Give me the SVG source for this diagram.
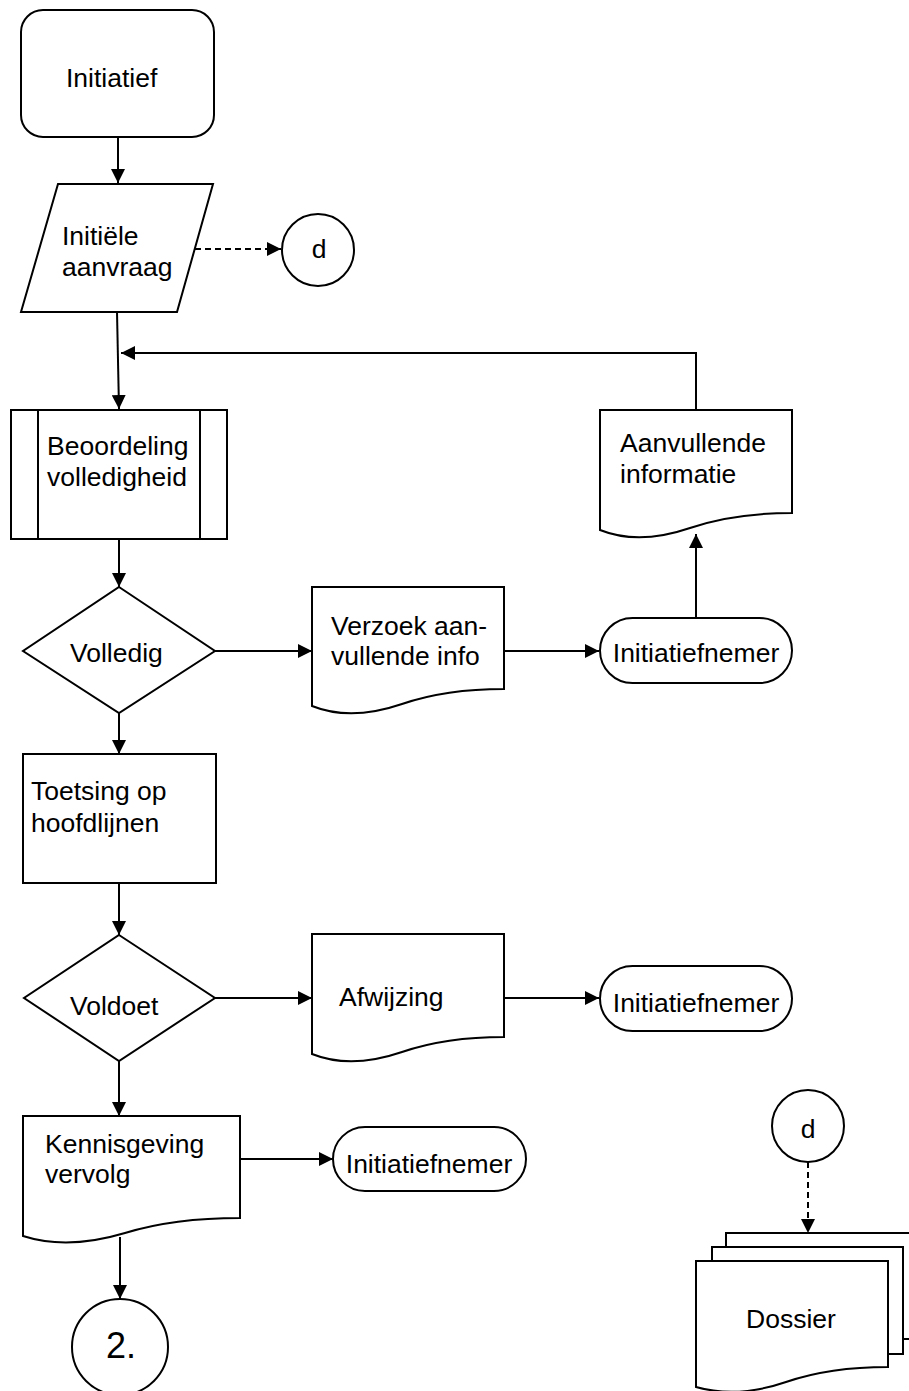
<svg xmlns="http://www.w3.org/2000/svg" width="909" height="1391" viewBox="0 0 909 1391">
<style>
.s{fill:#fff;stroke:#000;stroke-width:2}
.t{font-family:"Liberation Sans",Arial,sans-serif;font-size:26.5px;fill:#000}
.c{text-anchor:middle}
.l{fill:none;stroke:#000;stroke-width:2}
.d{stroke-dasharray:6 4}
</style>
<defs>
<marker id="ah" markerUnits="userSpaceOnUse" markerWidth="14" markerHeight="14" refX="14" refY="7" orient="auto">
<path d="M0,0 L14,7 L0,14 z" fill="#000"/>
</marker>
</defs>
<rect width="909" height="1391" fill="#fff"/>
<g id="connectors">
<path class="l" d="M118,137 V183" marker-end="url(#ah)"/>
<path class="l d" d="M195,249 H281" marker-end="url(#ah)"/>
<path class="l" d="M117,312 L119,409" marker-end="url(#ah)"/>
<path class="l" d="M696,410 V353 H121" marker-end="url(#ah)"/>
<path class="l" d="M119,539 V587" marker-end="url(#ah)"/>
<path class="l" d="M215,651 H312" marker-end="url(#ah)"/>
<path class="l" d="M504,651 H599" marker-end="url(#ah)"/>
<path class="l" d="M696,618 V534" marker-end="url(#ah)"/>
<path class="l" d="M119,713 V754" marker-end="url(#ah)"/>
<path class="l" d="M119,883 V935" marker-end="url(#ah)"/>
<path class="l" d="M215,998 H312" marker-end="url(#ah)"/>
<path class="l" d="M504,998 H599" marker-end="url(#ah)"/>
<path class="l" d="M119,1061 V1116" marker-end="url(#ah)"/>
<path class="l" d="M237,1159 H333" marker-end="url(#ah)"/>
<path class="l" d="M120,1237 V1299" marker-end="url(#ah)"/>
<path class="l d" d="M808,1162 V1233" marker-end="url(#ah)"/>
</g>
<g id="initiatief">
<rect class="s" x="21" y="10" width="193" height="127" rx="22"/>
<text class="t" x="66" y="87">Initiatief</text>
</g>
<g id="initiele-aanvraag">
<path class="s" d="M58,184 H213 L177,312 H21 Z"/>
<text class="t" x="62" y="245">Initiële</text>
<text class="t" x="62" y="276">aanvraag</text>
</g>
<g id="d-top">
<circle class="s" cx="318" cy="250" r="36"/>
<text class="t c" x="319" y="258">d</text>
</g>
<g id="beoordeling">
<rect class="s" x="11" y="410" width="216" height="129"/>
<path class="l" d="M38,410 V539 M200,410 V539"/>
<text class="t" x="47" y="455">Beoordeling</text>
<text class="t" x="47" y="486">volledigheid</text>
</g>
<g id="volledig">
<path class="s" d="M119,587 L215,651 L119,713 L23,651 Z"/>
<text class="t" x="70" y="662">Volledig</text>
</g>
<g id="verzoek">
<path class="s" d="M312,587 H504 V689 C472,689 437,692 402,704 C367,716 337,716 312,706 Z"/>
<text class="t" x="331" y="635">Verzoek aan-</text>
<text class="t" x="331" y="665">vullende info</text>
</g>
<g id="initiatiefnemer-1">
<rect class="s" x="600" y="618" width="192" height="65" rx="32.5"/>
<text class="t c" x="696" y="662">Initiatiefnemer</text>
</g>
<g id="aanvullende-informatie">
<path class="s" d="M600,410 H792 V513 C760,513 725,516 690,528 C655,540 625,540 600,530 Z"/>
<text class="t" x="620" y="452">Aanvullende</text>
<text class="t" x="620" y="483">informatie</text>
</g>
<g id="toetsing">
<rect class="s" x="23" y="754" width="193" height="129"/>
<text class="t" x="31" y="800">Toetsing op</text>
<text class="t" x="31" y="832">hoofdlijnen</text>
</g>
<g id="voldoet">
<path class="s" d="M119,935 L215,998 L119,1061 L24,998 Z"/>
<text class="t" x="70" y="1015">Voldoet</text>
</g>
<g id="afwijzing">
<path class="s" d="M312,934 H504 V1037 C472,1037 437,1040 402,1052 C367,1064 337,1064 312,1054 Z"/>
<text class="t" x="339" y="1006">Afwijzing</text>
</g>
<g id="initiatiefnemer-2">
<rect class="s" x="600" y="966" width="192" height="65" rx="32.5"/>
<text class="t c" x="696" y="1012">Initiatiefnemer</text>
</g>
<g id="kennisgeving">
<path class="s" d="M23,1116 H240 V1218 C204,1218 164,1221 125,1233 C85,1245 51,1245 23,1236 Z"/>
<text class="t" x="45" y="1153">Kennisgeving</text>
<text class="t" x="45" y="1183">vervolg</text>
</g>
<g id="initiatiefnemer-3">
<rect class="s" x="333" y="1127" width="193" height="64" rx="32"/>
<text class="t c" x="429" y="1173">Initiatiefnemer</text>
</g>
<g id="connector-2">
<circle class="s" cx="120" cy="1347" r="48"/>
<text class="t c" x="121" y="1358" style="font-size:36px">2.</text>
</g>
<g id="d-bottom">
<circle class="s" cx="808" cy="1126" r="36"/>
<text class="t c" x="808" y="1138">d</text>
</g>
<g id="dossier">
<rect class="s" x="726" y="1233" width="193" height="106"/>
<rect class="s" x="712" y="1247" width="191" height="107"/>
<path class="s" d="M696,1261 H888 V1367 C856,1367 821,1370 786,1382 C751,1394 721,1394 696,1387 Z"/>
<text class="t c" x="791" y="1328">Dossier</text>
</g>
</svg>
